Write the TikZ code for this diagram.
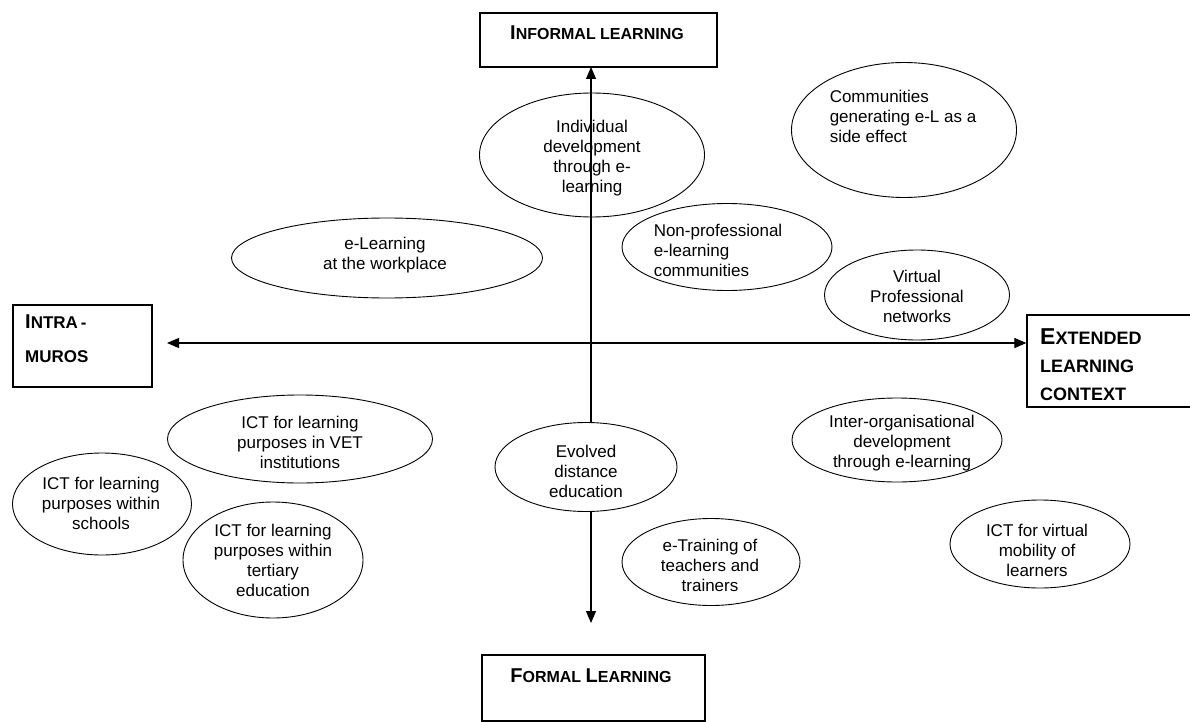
\documentclass[tikz,border=0pt]{standalone}
\usepackage{fontspec}
\setmainfont{Liberation Sans}
\usetikzlibrary{shapes.geometric,arrows.meta}
\newcommand\hdBig[2]{{\fontsize{#1}{#1}\selectfont #2}}
\tikzset{
  oval/.style={ellipse, draw=black, line width=0.9pt, inner sep=0pt},
  txt/.style={inner sep=0pt, align=center, font=\fontsize{17}{20}\selectfont},
  txtl/.style={inner sep=0pt, align=left, font=\fontsize{17}{20}\selectfont},
  hbox/.style={draw=black, line width=1.2pt, rectangle, inner sep=0pt},
  hdtext/.style={inner sep=0pt, font=\bfseries},
  axis/.style={line width=1.1pt, {Triangle[length=12pt,width=10pt]}-{Triangle[length=12pt,width=10pt]}}
}
\begin{document}
\begin{tikzpicture}[x=1pt,y=-1pt]
\useasboundingbox (0,0) rectangle (1190,722);
\clip (0,0) rectangle (1190,722);
\fill[white] (0,0) rectangle (1190,722);

% heading boxes
\node[hbox, minimum width=237pt, minimum height=54pt] (inf) at (598.5,40) {};
\node[hdtext] (infT) at (597,33) {\hdBig{20}{I}\hdBig{16}{NFORMAL LEARNING}};

\node[hbox, minimum width=223pt, minimum height=66pt] (frm) at (593.5,688) {};
\node[hdtext] (frmT) at (591,676) {\hdBig{20}{F}\hdBig{16}{ORMAL }\hdBig{20}{L}\hdBig{16}{EARNING}};

\node[hbox, minimum width=139pt, minimum height=82pt] (intra) at (82.5,346) {};
\node[hdtext, anchor=north west, align=left, font=\bfseries\fontsize{17}{34}\selectfont] (intraT) at (25,315)
  {\hdBig{20}{I}NTRA\,-\\MUROS};

\node[hbox, minimum width=180pt, minimum height=92pt] (ext) at (1117,361) {};
\node[hdtext, anchor=north west, align=left, font=\bfseries\fontsize{18}{28}\selectfont] (extT) at (1040,328)
  {\hdBig{23}{E}XTENDED\\LEARNING\\CONTEXT};

% ellipses (transparent)
\node[oval, minimum width=225pt, minimum height=124pt] (indiv) at (592,155) {};
\node[txt] (indivT) at (592,158) {Individual\\development\\through e-\\learning};

\node[oval, minimum width=210pt, minimum height=87pt] (nonp) at (727,247) {};
\node[txtl] (nonpT) at (718,250) {Non-professional\\e-learning\\communities};

\node[oval, minimum width=225pt, minimum height=135pt] (comm) at (904,130) {};
\node[txtl] (commT) at (903,116) {Communities\\generating e-L as a\\side effect};

\node[oval, minimum width=311pt, minimum height=80pt] (work) at (387,258) {};
\node[txt] (workT) at (385,255) {e-Learning\\at the workplace};

\node[oval, minimum width=185pt, minimum height=90pt] (virt) at (917,295) {};
\node[txt] (virtT) at (917,296) {Virtual\\Professional\\networks};

\node[oval, minimum width=265pt, minimum height=88pt] (vet) at (300,439) {};
\node[txt] (vetT) at (300,442) {ICT for learning\\purposes in VET\\institutions};

\node[oval, minimum width=179pt, minimum height=102pt] (sch) at (102,504) {};
\node[txt] (schT) at (101,503) {ICT for learning\\purposes within\\schools};

\node[oval, minimum width=180pt, minimum height=116pt] (tert) at (273,560) {};
\node[txt] (tertT) at (273,560) {ICT for learning\\purposes within\\tertiary\\education};

\node[oval, minimum width=178pt, minimum height=87pt] (etr) at (711,562) {};
\node[txt] (etrT) at (710,565) {e-Training of\\teachers and\\trainers};

\node[oval, minimum width=210pt, minimum height=84pt] (inter) at (897,440) {};
\node[txt] (interT) at (902,443) {Inter-organisational\\development\\through e-learning};

\node[oval, minimum width=180pt, minimum height=88pt] (mob) at (1040,544) {};
\node[txt] (mobT) at (1037,550) {ICT for virtual\\mobility of\\learners};

% axes
\coordinate (vT) at (591,67);
\coordinate (vB) at (591,623);
\coordinate (hL) at (167,343);
\coordinate (hR) at (ext.west |- 0,343);
\draw[axis] (vT) -- (vB);
\draw[axis] (hL) -- (hR);

% opaque ellipse on the axis
\node[oval, fill=white, minimum width=182pt, minimum height=89pt] (evo) at (586,467) {};
\node[txt] (evoT) at (586,471) {Evolved\\distance\\education};
\end{tikzpicture}
\end{document}
